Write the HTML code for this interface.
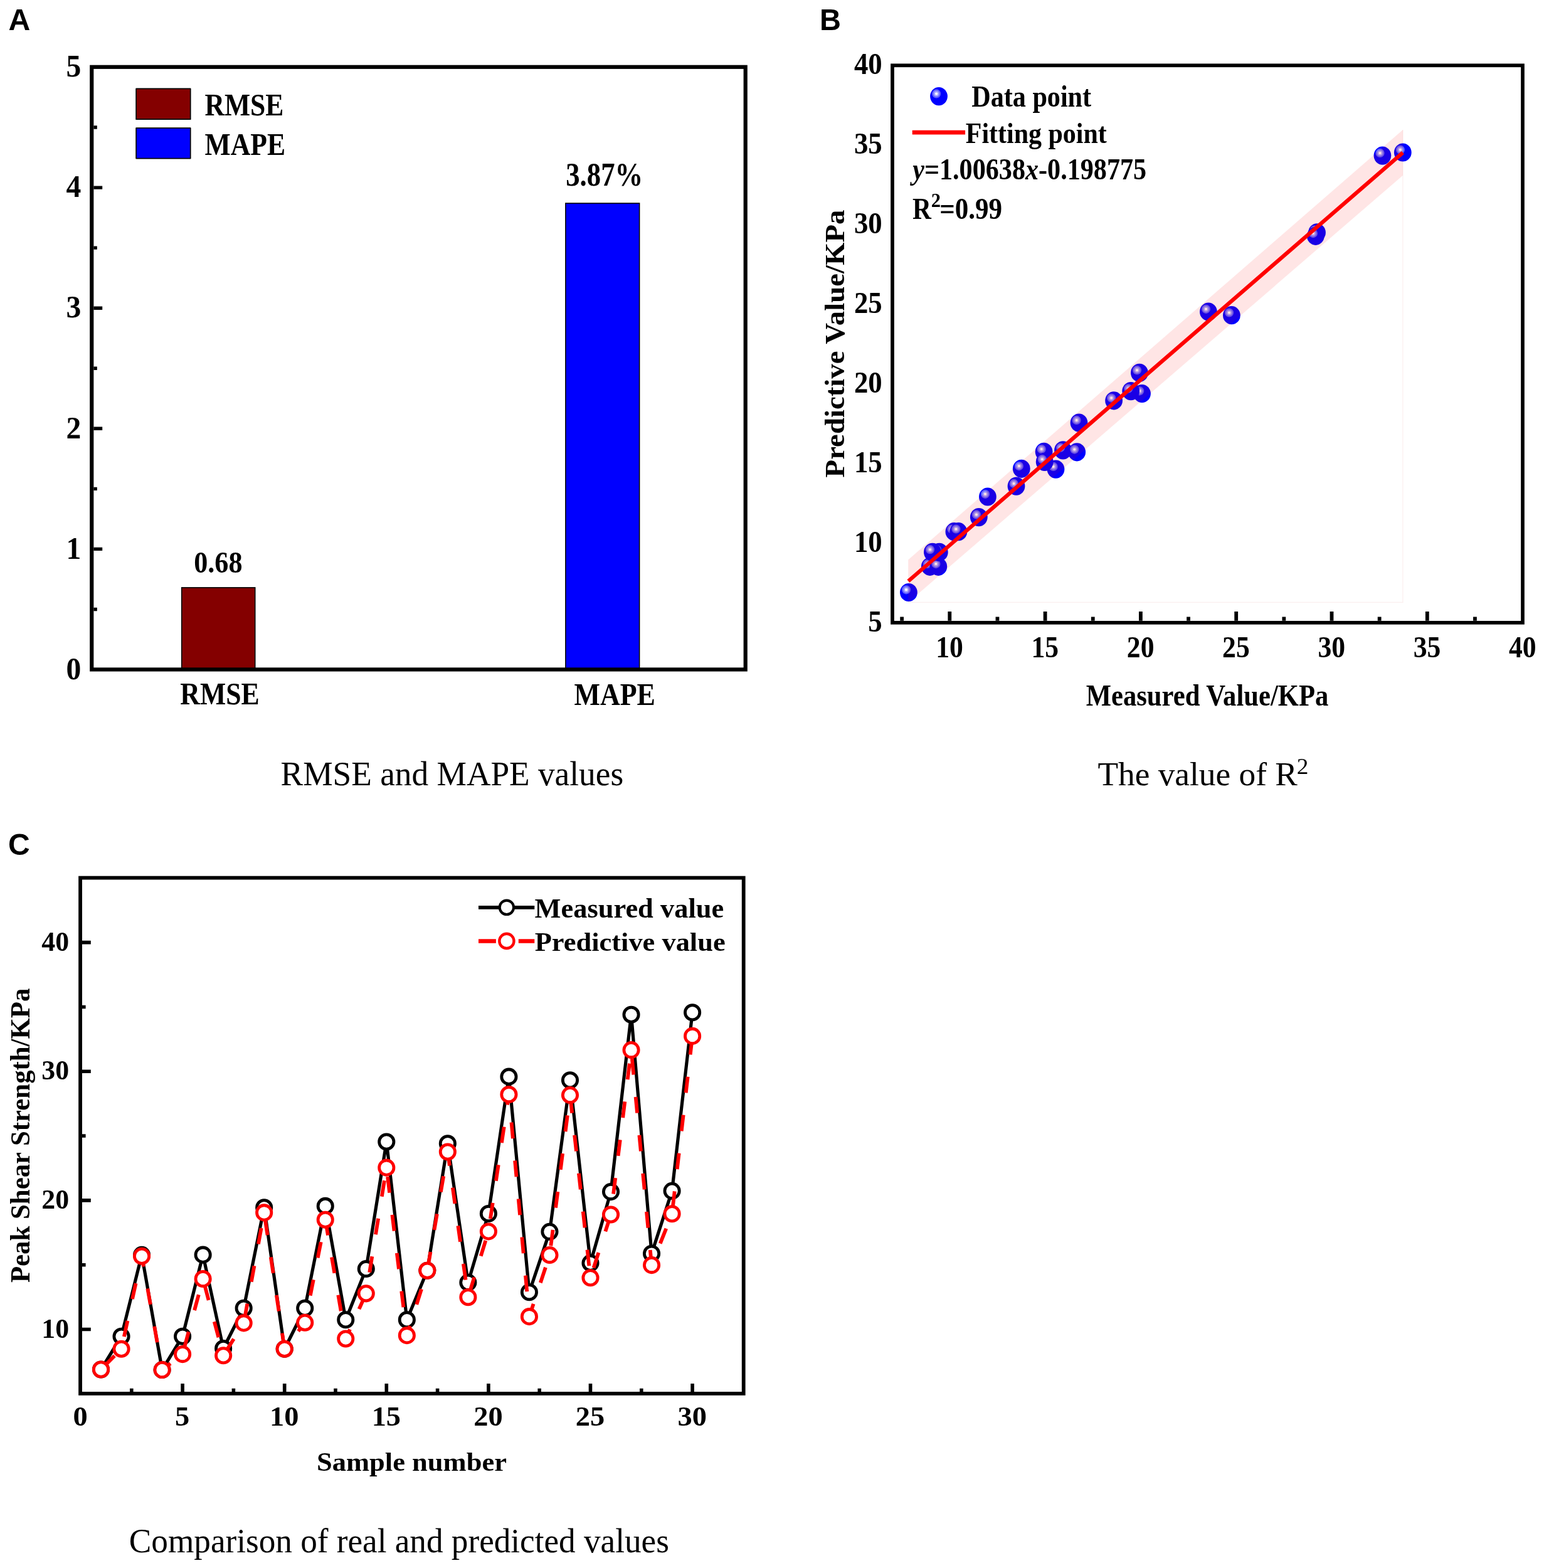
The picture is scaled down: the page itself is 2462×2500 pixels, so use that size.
<!DOCTYPE html>
<html><head><meta charset="utf-8"><title>Figure</title>
<style>html,body{margin:0;padding:0;background:#fff;}svg{display:block}</style></head>
<body><svg width="2462" height="2500" viewBox="0 0 2462 2500">
<rect width="2462" height="2500" fill="#fff"/>
<rect x="289.7" y="936.87" width="117" height="130.63" fill="#840000" stroke="#000" stroke-width="1.6"/>
<rect x="901.9" y="324.07" width="117.7" height="743.43" fill="#0000ff" stroke="#000" stroke-width="1.6"/>
<rect x="217.1" y="141.4" width="86.6" height="48.8" fill="#840000" stroke="#000" stroke-width="1.7" stroke-linejoin="round"/>
<rect x="217.1" y="204.1" width="86.6" height="48.5" fill="#0000ff" stroke="#000" stroke-width="1.7" stroke-linejoin="round"/>
<path d="M149.4 875.40H163.2 M149.4 683.30H163.2 M149.4 491.20H163.2 M149.4 299.10H163.2 M149.4 971.45H154.8 M149.4 779.35H154.8 M149.4 587.25H154.8 M149.4 395.15H154.8 M149.4 203.05H154.8" stroke="#000" stroke-width="5.4" fill="none"/>
<rect x="146.25" y="106.8" width="1042.45" height="960.65" fill="none" stroke="#000" stroke-width="6.2"/>
<path d="M1448.2 960.4H2236.9V206.9" fill="none" stroke="#fbeeee" stroke-width="1.2"/>
<defs>
<g id="ball"><ellipse cx="0" cy="0" rx="13.9" ry="14.6" fill="#0000ff"/>
<circle cx="-3.9" cy="-4.2" r="7.1" fill="#fff" opacity="0.36"/>
<circle cx="-3.9" cy="-4.2" r="5.1" fill="#fff" opacity="0.28"/>
<circle cx="-3.9" cy="-4.2" r="3.6" fill="#fff" opacity="0.3"/>
<circle cx="-3.9" cy="-4.2" r="2.0" fill="#fff"/></g>
</defs>
<use href="#ball" x="1448.9" y="944.5"/>
<use href="#ball" x="1482.8" y="903.3"/>
<use href="#ball" x="1496.3" y="903.3"/>
<use href="#ball" x="1497.8" y="880.4"/>
<use href="#ball" x="1486.9" y="880.4"/>
<use href="#ball" x="1521.4" y="847.7"/>
<use href="#ball" x="1528.3" y="847.7"/>
<use href="#ball" x="1560.8" y="824.6"/>
<use href="#ball" x="1574.9" y="792"/>
<use href="#ball" x="1620.5" y="775.1"/>
<use href="#ball" x="1628.8" y="747.3"/>
<use href="#ball" x="1664.6" y="720.3"/>
<use href="#ball" x="1683.5" y="748.1"/>
<use href="#ball" x="1665.7" y="736.4"/>
<use href="#ball" x="1695" y="717.9"/>
<use href="#ball" x="1717.2" y="720.8"/>
<use href="#ball" x="1720.5" y="674.1"/>
<use href="#ball" x="1776.1" y="638.8"/>
<use href="#ball" x="1821" y="627.5"/>
<use href="#ball" x="1803.2" y="623.6"/>
<use href="#ball" x="1816.9" y="594.4"/>
<use href="#ball" x="1926.9" y="497"/>
<use href="#ball" x="1963.9" y="502.7"/>
<use href="#ball" x="2100" y="370.8"/>
<use href="#ball" x="2097.8" y="376.3"/>
<use href="#ball" x="2204.4" y="248.1"/>
<use href="#ball" x="2236.8" y="243"/>
<path d="M1448.2 892.4L2236.9 206.9L2236.9 279.8L1448.2 960.4Z" fill="#ff0000" fill-opacity="0.1"/>
<path d="M1448.4 926.5L2236.9 243.4" stroke="#ff0000" stroke-width="6.2" fill="none"/>
<use href="#ball" x="1497" y="153.6"/>
<path d="M1454.7 211.1H1539.1" stroke="#ff0000" stroke-width="6.6"/>
<path d="M1514.30 989.8V975 M1666.60 989.8V975 M1818.90 989.8V975 M1971.20 989.8V975 M2123.50 989.8V975 M2275.80 989.8V975 M1438.15 989.8V983.6 M1590.45 989.8V983.6 M1742.75 989.8V983.6 M1895.05 989.8V983.6 M2047.35 989.8V983.6 M2199.65 989.8V983.6 M2351.95 989.8V983.6" stroke="#000" stroke-width="5.8" fill="none"/>
<rect x="1423.0" y="104.3" width="1005.00" height="888.50" fill="none" stroke="#000" stroke-width="5.7"/>
<path d="M130.8 2119.50H144.8 M130.8 1913.87H144.8 M130.8 1708.24H144.8 M130.8 1502.61H144.8 M130.8 2016.68H136.6 M130.8 1811.06H136.6 M130.8 1605.43H136.6 M291.10 2219V2206 M453.70 2219V2206 M616.30 2219V2206 M778.90 2219V2206 M941.50 2219V2206 M1104.10 2219V2206 M209.80 2219V2213.8 M372.40 2219V2213.8 M535.00 2219V2213.8 M697.60 2219V2213.8 M860.20 2219V2213.8 M1022.80 2219V2213.8" stroke="#000" stroke-width="5.6" fill="none"/>
<polyline points="161.02,2183.55 193.54,2130.71 226.06,2000.85 258.58,2184.07 291.10,2130.71 323.62,2000.65 356.14,2149.99 388.66,2085.78 421.18,1925.18 453.70,2150.76 486.22,2085.78 518.74,1922.92 551.26,2104.28 583.78,2023.06 616.30,1820.51 648.82,2104.28 681.34,2025.73 713.86,1823.19 746.38,2044.86 778.90,1935.05 811.42,1716.67 843.94,2060.28 876.46,1963.84 908.98,1722.22 941.50,2013.81 974.02,1900.09 1006.54,1617.76 1039.06,1998.80 1071.58,1898.86 1104.10,1614.27" fill="none" stroke="#000" stroke-width="5.2" stroke-linejoin="round"/>
<circle cx="161.02" cy="2183.55" r="11.65" fill="#fff" stroke="#000" stroke-width="4.8"/>
<circle cx="193.54" cy="2130.71" r="11.65" fill="#fff" stroke="#000" stroke-width="4.8"/>
<circle cx="226.06" cy="2000.85" r="11.65" fill="#fff" stroke="#000" stroke-width="4.8"/>
<circle cx="258.58" cy="2184.07" r="11.65" fill="#fff" stroke="#000" stroke-width="4.8"/>
<circle cx="291.10" cy="2130.71" r="11.65" fill="#fff" stroke="#000" stroke-width="4.8"/>
<circle cx="323.62" cy="2000.65" r="11.65" fill="#fff" stroke="#000" stroke-width="4.8"/>
<circle cx="356.14" cy="2149.99" r="11.65" fill="#fff" stroke="#000" stroke-width="4.8"/>
<circle cx="388.66" cy="2085.78" r="11.65" fill="#fff" stroke="#000" stroke-width="4.8"/>
<circle cx="421.18" cy="1925.18" r="11.65" fill="#fff" stroke="#000" stroke-width="4.8"/>
<circle cx="453.70" cy="2150.76" r="11.65" fill="#fff" stroke="#000" stroke-width="4.8"/>
<circle cx="486.22" cy="2085.78" r="11.65" fill="#fff" stroke="#000" stroke-width="4.8"/>
<circle cx="518.74" cy="1922.92" r="11.65" fill="#fff" stroke="#000" stroke-width="4.8"/>
<circle cx="551.26" cy="2104.28" r="11.65" fill="#fff" stroke="#000" stroke-width="4.8"/>
<circle cx="583.78" cy="2023.06" r="11.65" fill="#fff" stroke="#000" stroke-width="4.8"/>
<circle cx="616.30" cy="1820.51" r="11.65" fill="#fff" stroke="#000" stroke-width="4.8"/>
<circle cx="648.82" cy="2104.28" r="11.65" fill="#fff" stroke="#000" stroke-width="4.8"/>
<circle cx="681.34" cy="2025.73" r="11.65" fill="#fff" stroke="#000" stroke-width="4.8"/>
<circle cx="713.86" cy="1823.19" r="11.65" fill="#fff" stroke="#000" stroke-width="4.8"/>
<circle cx="746.38" cy="2044.86" r="11.65" fill="#fff" stroke="#000" stroke-width="4.8"/>
<circle cx="778.90" cy="1935.05" r="11.65" fill="#fff" stroke="#000" stroke-width="4.8"/>
<circle cx="811.42" cy="1716.67" r="11.65" fill="#fff" stroke="#000" stroke-width="4.8"/>
<circle cx="843.94" cy="2060.28" r="11.65" fill="#fff" stroke="#000" stroke-width="4.8"/>
<circle cx="876.46" cy="1963.84" r="11.65" fill="#fff" stroke="#000" stroke-width="4.8"/>
<circle cx="908.98" cy="1722.22" r="11.65" fill="#fff" stroke="#000" stroke-width="4.8"/>
<circle cx="941.50" cy="2013.81" r="11.65" fill="#fff" stroke="#000" stroke-width="4.8"/>
<circle cx="974.02" cy="1900.09" r="11.65" fill="#fff" stroke="#000" stroke-width="4.8"/>
<circle cx="1006.54" cy="1617.76" r="11.65" fill="#fff" stroke="#000" stroke-width="4.8"/>
<circle cx="1039.06" cy="1998.80" r="11.65" fill="#fff" stroke="#000" stroke-width="4.8"/>
<circle cx="1071.58" cy="1898.86" r="11.65" fill="#fff" stroke="#000" stroke-width="4.8"/>
<circle cx="1104.10" cy="1614.27" r="11.65" fill="#fff" stroke="#000" stroke-width="4.8"/>
<polyline points="161.02,2183.55 193.54,2150.69 226.06,2002.80 258.58,2184.07 291.10,2159.10 323.62,2039.00 356.14,2161.24 388.66,2109.42 421.18,1933.40 453.70,2150.76 486.22,2108.81 518.74,1944.71 551.26,2134.51 583.78,2062.33 616.30,1861.64 648.82,2129.16 681.34,2025.73 713.86,1836.55 746.38,2068.30 778.90,1963.43 811.42,1745.05 843.94,2099.14 876.46,2001.06 908.98,1746.08 941.50,2037.25 974.02,1936.49 1006.54,1674.11 1039.06,2017.10 1071.58,1935.26 1104.10,1651.90" fill="none" stroke="#ff0000" stroke-width="5.8" stroke-dasharray="25.8 35.49" stroke-dashoffset="56.29"/>
<circle cx="161.02" cy="2183.55" r="11.65" fill="#fff" stroke="#ff0000" stroke-width="4.8"/>
<circle cx="193.54" cy="2150.69" r="11.65" fill="#fff" stroke="#ff0000" stroke-width="4.8"/>
<circle cx="226.06" cy="2002.80" r="11.65" fill="#fff" stroke="#ff0000" stroke-width="4.8"/>
<circle cx="258.58" cy="2184.07" r="11.65" fill="#fff" stroke="#ff0000" stroke-width="4.8"/>
<circle cx="291.10" cy="2159.10" r="11.65" fill="#fff" stroke="#ff0000" stroke-width="4.8"/>
<circle cx="323.62" cy="2039.00" r="11.65" fill="#fff" stroke="#ff0000" stroke-width="4.8"/>
<circle cx="356.14" cy="2161.24" r="11.65" fill="#fff" stroke="#ff0000" stroke-width="4.8"/>
<circle cx="388.66" cy="2109.42" r="11.65" fill="#fff" stroke="#ff0000" stroke-width="4.8"/>
<circle cx="421.18" cy="1933.40" r="11.65" fill="#fff" stroke="#ff0000" stroke-width="4.8"/>
<circle cx="453.70" cy="2150.76" r="11.65" fill="#fff" stroke="#ff0000" stroke-width="4.8"/>
<circle cx="486.22" cy="2108.81" r="11.65" fill="#fff" stroke="#ff0000" stroke-width="4.8"/>
<circle cx="518.74" cy="1944.71" r="11.65" fill="#fff" stroke="#ff0000" stroke-width="4.8"/>
<circle cx="551.26" cy="2134.51" r="11.65" fill="#fff" stroke="#ff0000" stroke-width="4.8"/>
<circle cx="583.78" cy="2062.33" r="11.65" fill="#fff" stroke="#ff0000" stroke-width="4.8"/>
<circle cx="616.30" cy="1861.64" r="11.65" fill="#fff" stroke="#ff0000" stroke-width="4.8"/>
<circle cx="648.82" cy="2129.16" r="11.65" fill="#fff" stroke="#ff0000" stroke-width="4.8"/>
<circle cx="681.34" cy="2025.73" r="11.65" fill="#fff" stroke="#ff0000" stroke-width="4.8"/>
<circle cx="713.86" cy="1836.55" r="11.65" fill="#fff" stroke="#ff0000" stroke-width="4.8"/>
<circle cx="746.38" cy="2068.30" r="11.65" fill="#fff" stroke="#ff0000" stroke-width="4.8"/>
<circle cx="778.90" cy="1963.43" r="11.65" fill="#fff" stroke="#ff0000" stroke-width="4.8"/>
<circle cx="811.42" cy="1745.05" r="11.65" fill="#fff" stroke="#ff0000" stroke-width="4.8"/>
<circle cx="843.94" cy="2099.14" r="11.65" fill="#fff" stroke="#ff0000" stroke-width="4.8"/>
<circle cx="876.46" cy="2001.06" r="11.65" fill="#fff" stroke="#ff0000" stroke-width="4.8"/>
<circle cx="908.98" cy="1746.08" r="11.65" fill="#fff" stroke="#ff0000" stroke-width="4.8"/>
<circle cx="941.50" cy="2037.25" r="11.65" fill="#fff" stroke="#ff0000" stroke-width="4.8"/>
<circle cx="974.02" cy="1936.49" r="11.65" fill="#fff" stroke="#ff0000" stroke-width="4.8"/>
<circle cx="1006.54" cy="1674.11" r="11.65" fill="#fff" stroke="#ff0000" stroke-width="4.8"/>
<circle cx="1039.06" cy="2017.10" r="11.65" fill="#fff" stroke="#ff0000" stroke-width="4.8"/>
<circle cx="1071.58" cy="1935.26" r="11.65" fill="#fff" stroke="#ff0000" stroke-width="4.8"/>
<circle cx="1104.10" cy="1651.90" r="11.65" fill="#fff" stroke="#ff0000" stroke-width="4.8"/>
<path d="M763 1446.9H852.3" stroke="#000" stroke-width="5.9"/>
<circle cx="807.9" cy="1446.8" r="11.2" fill="#fff" stroke="#000" stroke-width="4.1"/>
<path d="M763 1500.5H790.9M826.8 1500.5H852.3" stroke="#ff0000" stroke-width="6.6"/>
<circle cx="807.9" cy="1500.4" r="11.6" fill="#fff" stroke="#ff0000" stroke-width="4.4"/>
<rect x="128.05" y="1399.6" width="1057.65" height="822.30" fill="none" stroke="#000" stroke-width="5.8"/>
<text transform="translate(13.49,48.10) scale(0.9959,1)" font-family="'Liberation Sans', Arial, sans-serif" font-weight="bold" font-size="48.41" fill="#000">A</text>
<text transform="translate(1307.04,47.80) scale(0.9605,1)" font-family="'Liberation Sans', Arial, sans-serif" font-weight="bold" font-size="48.99" fill="#000">B</text>
<text transform="translate(13.08,1362.82) scale(1.0102,1)" font-family="'Liberation Sans', Arial, sans-serif" font-weight="bold" font-size="47.61" fill="#000">C</text>
<text transform="translate(326.55,184.09) scale(0.8512,1)" font-family="'Liberation Serif', 'Times New Roman', serif" font-weight="bold" font-size="51.19" fill="#000">RMSE</text>
<text transform="translate(326.55,247.10) scale(0.8549,1)" font-family="'Liberation Serif', 'Times New Roman', serif" font-weight="bold" font-size="51.06" fill="#000">MAPE</text>
<text transform="translate(309.23,912.76) scale(0.8941,1)" font-family="'Liberation Serif', 'Times New Roman', serif" font-weight="bold" font-size="49.41" fill="#000">0.68</text>
<text transform="translate(902.21,295.99) scale(0.8335,1)" font-family="'Liberation Serif', 'Times New Roman', serif" font-weight="bold" font-size="53.68" fill="#000">3.87%</text>
<text transform="translate(287.34,1123.00) scale(0.8743,1)" font-family="'Liberation Serif', 'Times New Roman', serif" font-weight="bold" font-size="50.00" fill="#000">RMSE</text>
<text transform="translate(915.54,1123.60) scale(0.8528,1)" font-family="'Liberation Serif', 'Times New Roman', serif" font-weight="bold" font-size="51.52" fill="#000">MAPE</text>
<text transform="translate(447.60,1252.36) scale(0.9799,1)" font-family="'Liberation Serif', 'Times New Roman', serif" font-weight="normal" font-size="54.43" fill="#000">RMSE and MAPE values</text>
<text transform="translate(1549.26,170.45) scale(0.8864,1)" font-family="'Liberation Serif', 'Times New Roman', serif" font-weight="bold" font-size="47.56" fill="#000">Data point</text>
<text transform="translate(1539.77,228.20) scale(0.9016,1)" font-family="'Liberation Serif', 'Times New Roman', serif" font-weight="bold" font-size="46.56" fill="#000">Fitting point</text>
<text transform="translate(1455.22,286.20) scale(0.8766,1)" font-family="'Liberation Serif', 'Times New Roman', serif" font-weight="bold" font-size="48.09" fill="#000"><tspan font-style="italic">y</tspan>=1.00638<tspan font-style="italic">x</tspan>-0.198775</text>
<text transform="translate(1731.76,1124.70) scale(0.8858,1)" font-family="'Liberation Serif', 'Times New Roman', serif" font-weight="bold" font-size="48.15" fill="#000">Measured Value/KPa</text>
<text transform="translate(1345.70,761.40) scale(0.9295,1) rotate(-90)" font-family="'Liberation Serif', 'Times New Roman', serif" font-weight="bold" font-size="46.81" fill="#000">Predictive Value/KPa</text>
<text transform="translate(1750.43,1252.48) scale(1.0240,1)" font-family="'Liberation Serif', 'Times New Roman', serif" font-weight="normal" font-size="52.11" fill="#000">The value of R</text>
<text transform="translate(2067.82,1234.00) scale(1.0462,1)" font-family="'Liberation Serif', 'Times New Roman', serif" font-weight="normal" font-size="35.61" fill="#000">2</text>
<text transform="translate(852.53,1462.70) scale(1.0105,1)" font-family="'Liberation Serif', 'Times New Roman', serif" font-weight="bold" font-size="44.00" fill="#000">Measured value</text>
<text transform="translate(852.73,1515.80) scale(1.0322,1)" font-family="'Liberation Serif', 'Times New Roman', serif" font-weight="bold" font-size="43.05" fill="#000">Predictive value</text>
<text transform="translate(504.95,2344.68) scale(1.0603,1)" font-family="'Liberation Serif', 'Times New Roman', serif" font-weight="bold" font-size="42.00" fill="#000">Sample number</text>
<text transform="translate(46.80,2045.04) scale(1.0552,1) rotate(-90)" font-family="'Liberation Serif', 'Times New Roman', serif" font-weight="bold" font-size="42.83" fill="#000">Peak Shear Strength/KPa</text>
<text transform="translate(205.87,2474.75) scale(0.9634,1)" font-family="'Liberation Serif', 'Times New Roman', serif" font-weight="normal" font-size="55.22" fill="#000">Comparison of real and predicted values</text>
<text transform="translate(1454.88,349.20) scale(0.8652,1)" font-family="'Liberation Serif', 'Times New Roman', serif" font-weight="bold" font-size="47.85" fill="#000">R</text>
<text transform="translate(1484.78,329.80) scale(0.9757,1)" font-family="'Liberation Serif', 'Times New Roman', serif" font-weight="bold" font-size="31.36" fill="#000">2</text>
<text transform="translate(1498.25,348.89) scale(0.9034,1)" font-family="'Liberation Serif', 'Times New Roman', serif" font-weight="bold" font-size="47.65" fill="#000">=0.99</text>
<text transform="translate(129.20,1082.70) scale(0.9566,1)" font-family="'Liberation Serif', 'Times New Roman', serif" font-weight="bold" font-size="49.78" fill="#000" text-anchor="end">0</text>
<text transform="translate(129.20,890.60) scale(0.9566,1)" font-family="'Liberation Serif', 'Times New Roman', serif" font-weight="bold" font-size="49.78" fill="#000" text-anchor="end">1</text>
<text transform="translate(129.20,698.50) scale(0.9566,1)" font-family="'Liberation Serif', 'Times New Roman', serif" font-weight="bold" font-size="49.78" fill="#000" text-anchor="end">2</text>
<text transform="translate(129.20,506.40) scale(0.9566,1)" font-family="'Liberation Serif', 'Times New Roman', serif" font-weight="bold" font-size="49.78" fill="#000" text-anchor="end">3</text>
<text transform="translate(129.20,314.30) scale(0.9566,1)" font-family="'Liberation Serif', 'Times New Roman', serif" font-weight="bold" font-size="49.78" fill="#000" text-anchor="end">4</text>
<text transform="translate(129.20,122.20) scale(0.9566,1)" font-family="'Liberation Serif', 'Times New Roman', serif" font-weight="bold" font-size="49.78" fill="#000" text-anchor="end">5</text>
<text transform="translate(1406.69,1006.81) scale(0.9388,1)" font-family="'Liberation Serif', 'Times New Roman', serif" font-weight="bold" font-size="47.70" fill="#000" text-anchor="end">5</text>
<text transform="translate(1406.69,879.88) scale(0.9388,1)" font-family="'Liberation Serif', 'Times New Roman', serif" font-weight="bold" font-size="47.70" fill="#000" text-anchor="end">10</text>
<text transform="translate(1406.69,752.95) scale(0.9388,1)" font-family="'Liberation Serif', 'Times New Roman', serif" font-weight="bold" font-size="47.70" fill="#000" text-anchor="end">15</text>
<text transform="translate(1406.69,626.02) scale(0.9388,1)" font-family="'Liberation Serif', 'Times New Roman', serif" font-weight="bold" font-size="47.70" fill="#000" text-anchor="end">20</text>
<text transform="translate(1406.69,499.09) scale(0.9388,1)" font-family="'Liberation Serif', 'Times New Roman', serif" font-weight="bold" font-size="47.70" fill="#000" text-anchor="end">25</text>
<text transform="translate(1406.69,372.16) scale(0.9388,1)" font-family="'Liberation Serif', 'Times New Roman', serif" font-weight="bold" font-size="47.70" fill="#000" text-anchor="end">30</text>
<text transform="translate(1406.69,245.23) scale(0.9388,1)" font-family="'Liberation Serif', 'Times New Roman', serif" font-weight="bold" font-size="47.70" fill="#000" text-anchor="end">35</text>
<text transform="translate(1406.69,118.30) scale(0.9388,1)" font-family="'Liberation Serif', 'Times New Roman', serif" font-weight="bold" font-size="47.70" fill="#000" text-anchor="end">40</text>
<text transform="translate(1514.03,1048.11) scale(0.8899,1)" font-family="'Liberation Serif', 'Times New Roman', serif" font-weight="bold" font-size="49.04" fill="#000" text-anchor="middle">10</text>
<text transform="translate(1666.33,1048.11) scale(0.8899,1)" font-family="'Liberation Serif', 'Times New Roman', serif" font-weight="bold" font-size="49.04" fill="#000" text-anchor="middle">15</text>
<text transform="translate(1818.63,1048.11) scale(0.8899,1)" font-family="'Liberation Serif', 'Times New Roman', serif" font-weight="bold" font-size="49.04" fill="#000" text-anchor="middle">20</text>
<text transform="translate(1970.93,1048.11) scale(0.8899,1)" font-family="'Liberation Serif', 'Times New Roman', serif" font-weight="bold" font-size="49.04" fill="#000" text-anchor="middle">25</text>
<text transform="translate(2123.23,1048.11) scale(0.8899,1)" font-family="'Liberation Serif', 'Times New Roman', serif" font-weight="bold" font-size="49.04" fill="#000" text-anchor="middle">30</text>
<text transform="translate(2275.53,1048.11) scale(0.8899,1)" font-family="'Liberation Serif', 'Times New Roman', serif" font-weight="bold" font-size="49.04" fill="#000" text-anchor="middle">35</text>
<text transform="translate(2427.83,1048.11) scale(0.8899,1)" font-family="'Liberation Serif', 'Times New Roman', serif" font-weight="bold" font-size="49.04" fill="#000" text-anchor="middle">40</text>
<text transform="translate(110.15,2132.65) scale(0.9857,1)" font-family="'Liberation Serif', 'Times New Roman', serif" font-weight="bold" font-size="44.44" fill="#000" text-anchor="end">10</text>
<text transform="translate(110.15,1927.02) scale(0.9857,1)" font-family="'Liberation Serif', 'Times New Roman', serif" font-weight="bold" font-size="44.44" fill="#000" text-anchor="end">20</text>
<text transform="translate(110.15,1721.39) scale(0.9857,1)" font-family="'Liberation Serif', 'Times New Roman', serif" font-weight="bold" font-size="44.44" fill="#000" text-anchor="end">30</text>
<text transform="translate(110.15,1515.76) scale(0.9857,1)" font-family="'Liberation Serif', 'Times New Roman', serif" font-weight="bold" font-size="44.44" fill="#000" text-anchor="end">40</text>
<text transform="translate(128.05,2272.96) scale(1.0584,1)" font-family="'Liberation Serif', 'Times New Roman', serif" font-weight="bold" font-size="43.85" fill="#000" text-anchor="middle">0</text>
<text transform="translate(290.65,2272.96) scale(1.0584,1)" font-family="'Liberation Serif', 'Times New Roman', serif" font-weight="bold" font-size="43.85" fill="#000" text-anchor="middle">5</text>
<text transform="translate(453.25,2272.96) scale(1.0584,1)" font-family="'Liberation Serif', 'Times New Roman', serif" font-weight="bold" font-size="43.85" fill="#000" text-anchor="middle">10</text>
<text transform="translate(615.85,2272.96) scale(1.0584,1)" font-family="'Liberation Serif', 'Times New Roman', serif" font-weight="bold" font-size="43.85" fill="#000" text-anchor="middle">15</text>
<text transform="translate(778.45,2272.96) scale(1.0584,1)" font-family="'Liberation Serif', 'Times New Roman', serif" font-weight="bold" font-size="43.85" fill="#000" text-anchor="middle">20</text>
<text transform="translate(941.05,2272.96) scale(1.0584,1)" font-family="'Liberation Serif', 'Times New Roman', serif" font-weight="bold" font-size="43.85" fill="#000" text-anchor="middle">25</text>
<text transform="translate(1103.65,2272.96) scale(1.0584,1)" font-family="'Liberation Serif', 'Times New Roman', serif" font-weight="bold" font-size="43.85" fill="#000" text-anchor="middle">30</text>
</svg></body></html>
